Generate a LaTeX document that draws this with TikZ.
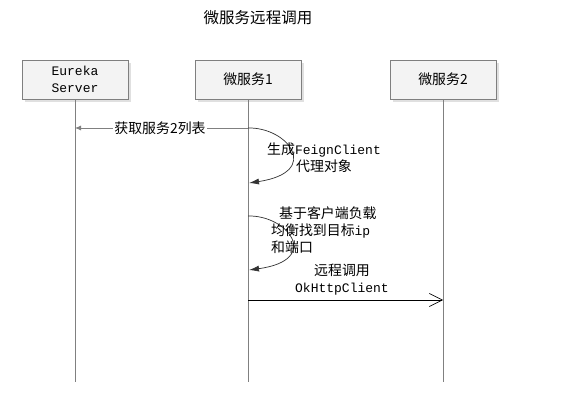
\documentclass[tikz,border=0pt]{standalone}
\usepackage{fontspec}
\setmainfont{Liberation Mono}
\newfontfamily\cjk[Scale=1.07]{Noto Sans CJK SC}
\usetikzlibrary{arrows.meta,shadows}
\definecolor{boxline}{HTML}{7F7F7F}
\definecolor{boxfill}{HTML}{F3F3F3}
\definecolor{lifegray}{HTML}{808080}
\tikzset{
  actor/.style={draw=boxline, fill=boxfill, minimum width=106pt, minimum height=39pt,
    align=center, inner sep=0pt, font=\fontsize{13}{17}\selectfont,
    drop shadow={shadow xshift=3pt, shadow yshift=-3pt, fill=black!12, opacity=1}},
  life/.style={draw=lifegray, line width=0.8pt},
  msglabel/.style={font=\fontsize{13}{17}\selectfont, inner sep=1pt},
  selfmsg/.style={draw=black!80, line width=0.7pt, -{Latex[length=10pt,width=6pt]}},
  getmsg/.style={draw=lifegray, line width=0.8pt, -{Latex[length=6pt,width=5pt]}},
  callmsg/.style={draw=black, line width=0.8pt, -{Straight Barb[length=13pt,width=13pt,line width=0.6pt]}}
}
\begin{document}
\begin{tikzpicture}[x=1pt,y=-1pt]
\useasboundingbox[fill=white] (0,0) rectangle (561,403);
\node[msglabel, font=\fontsize{14.5}{17}\selectfont] (title) at (258,18) {\cjk 微服务远程调用};
\node[actor] (eur) at (75,79.5) {Eureka\\Server};
\node[actor] (ms1) at (248,79.5) {\cjk 微服务1};
\node[actor] (ms2) at (443,79.5) {\cjk 微服务2};
\coordinate (eurEnd) at (75,382);
\coordinate (ms1End) at (248,382);
\coordinate (ms2End) at (443,382);
\draw[life] (eur.south) -- (eurEnd);
\draw[life] (ms1.south) -- (ms1End);
\draw[life] (ms2.south) -- (ms2End);
% message 1
\coordinate (a1) at (248,128);
\coordinate (e1) at (75,128);
\draw[getmsg] (a1) -- (e1);
\node[msglabel, fill=white] (l1) at (160,128) {\cjk 获取服务2列表};
% self message 1
\coordinate (s1b) at (249,183);
\draw[selfmsg] (a1) .. controls (288,127) and (322,172) .. (s1b);
\node[msglabel, align=center] (l2) at (324,158) {{\cjk 生成}FeignClient\\{\cjk 代理对象}};
% self message 2
\coordinate (a2) at (248,216);
\coordinate (s2b) at (249,270);
\draw[selfmsg] (a2) .. controls (288,215) and (322,260) .. (s2b);
\node[msglabel, align=left, anchor=west] (l3) at (270,230) {\hspace{8pt}{\cjk 基于客户端负载}\\{\cjk 均衡找到目标}ip\\{\cjk 和端口}};
% call message
\coordinate (a3) at (248,300);
\coordinate (b3) at (443,300);
\draw[callmsg] (a3) -- (b3);
\node[msglabel, align=center] (l4) at (342,280) {{\cjk 远程调用}\\OkHttpClient};
\end{tikzpicture}
\end{document}
